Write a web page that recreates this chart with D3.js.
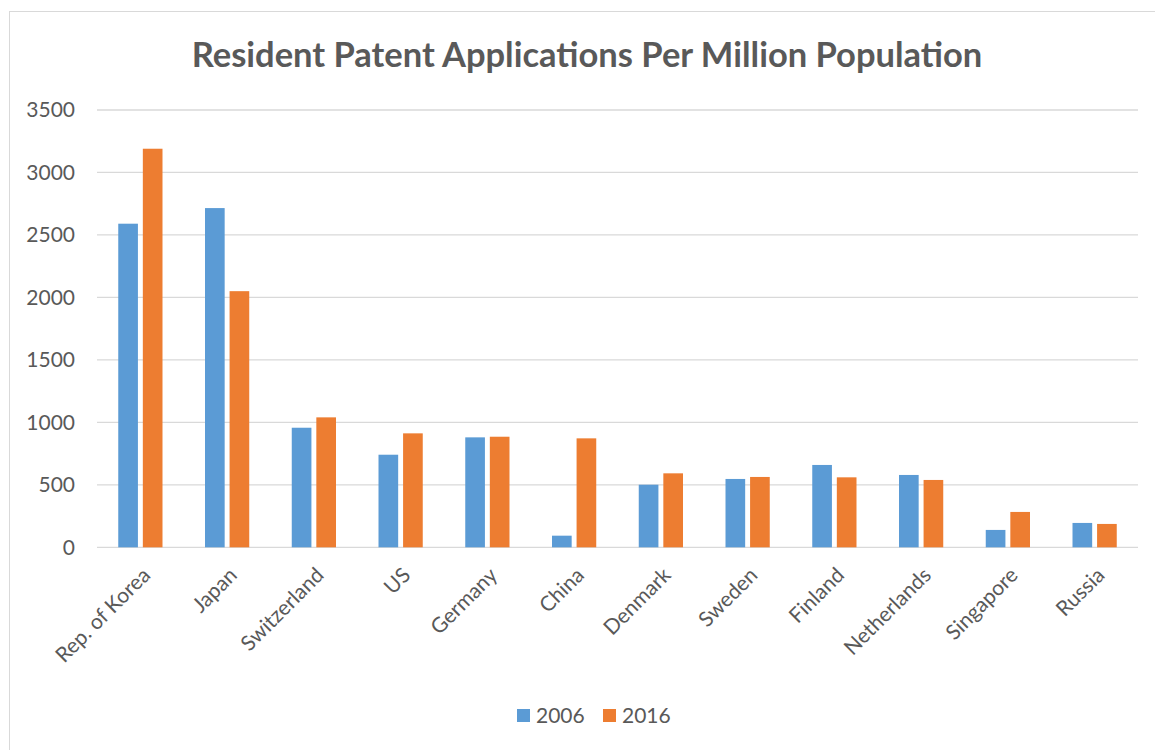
<!DOCTYPE html>
<html>
<head>
<meta charset="utf-8">
<script src="https://cdn.jsdelivr.net/npm/d3@7"></script>
<style>
  html, body { margin: 0; padding: 0; background: #fff; }
  svg { display: block; font-family: Lato, "Open Sans", sans-serif; }
</style>
</head>
<body>
<svg id="chart" width="1155" height="750"></svg>
<script>
const countries = ["Rep. of Korea", "Japan", "Switzerland", "US", "Germany", "China", "Denmark", "Sweden", "Finland", "Netherlands", "Singapore", "Russia"];
const seriesNames = ["2006", "2016"];
const values2006 = [2590, 2715, 957, 741, 880, 93, 501, 547, 659, 579, 139, 195];
const values2016 = [3190, 2050, 1040, 912, 885, 872, 592, 563, 560, 539, 283, 187];
const yTicks = [0, 500, 1000, 1500, 2000, 2500, 3000, 3500];
const colors = ["#5b9bd5", "#ed7d31"];
const title = "Resident Patent Applications Per Million Population";

(function () {
const svg = d3.select("#chart");
const textColor = "#595959";

// chart border
svg.append("rect").attr("x", 9.5).attr("y", 11.5).attr("width", 1160).attr("height", 760)
  .attr("fill", "#fff").attr("stroke", "#d9d9d9").attr("stroke-width", 1);

const pLeft = 97, pRight = 1138, pTop = 110, pBottom = 547.3;

const x = d3.scaleBand().domain(countries).range([pLeft, pRight]).paddingInner(0.49).paddingOuter(0.245);
const xs = d3.scaleBand().domain(seriesNames).range([0, x.bandwidth()]).paddingInner(0.2);
const y = d3.scaleLinear().domain([0, 3500]).range([pBottom, pTop]);

// gridlines
svg.append("g").selectAll("line").data(yTicks).join("line")
  .attr("x1", pLeft).attr("x2", pRight)
  .attr("y1", d => y(d)).attr("y2", d => y(d))
  .attr("stroke", "#d9d9d9").attr("stroke-width", 1.3);

// y labels
const yAxis = d3.axisLeft(y).tickValues(yTicks).tickSize(0).tickPadding(0).tickFormat(d3.format("d"));
const yg = svg.append("g").attr("transform", `translate(${75},0)`).call(yAxis);
yg.select(".domain").remove();
yg.selectAll("text").attr("font-size", 21).attr("fill", textColor).attr("font-family", "Lato, sans-serif");

// bars
const data = countries.map((c, i) => ({ c, vals: [values2006[i], values2016[i]] }));
const groups = svg.append("g").selectAll("g").data(data).join("g")
  .attr("transform", d => `translate(${x(d.c)},0)`);
groups.selectAll("rect").data(d => d.vals.map((v, k) => ({ v, k }))).join("rect")
  .attr("x", d => xs(seriesNames[d.k]))
  .attr("width", xs.bandwidth())
  .attr("y", d => y(d.v))
  .attr("height", d => y(0) - y(d.v))
  .attr("fill", d => colors[d.k]);

// x labels
const xAxis = d3.axisBottom(x).tickSize(0).tickPadding(0);
const xg = svg.append("g").attr("transform", `translate(0,${pBottom})`).call(xAxis);
xg.select(".domain").remove();
xg.selectAll("text")
  .attr("font-size", 21).attr("fill", textColor).attr("font-family", "Lato, sans-serif")
  .attr("text-anchor", "end")
  .attr("dy", "0.35em")
  .attr("transform", "translate(6,24) rotate(-45)");

// title
svg.append("text").attr("x", 587).attr("y", 67)
  .attr("text-anchor", "middle").attr("font-size", 34.5).attr("font-weight", "bold")
  .attr("fill", textColor).text(title);

// legend
const legend = svg.append("g").attr("transform", "translate(517,709)");
seriesNames.forEach((s, k) => {
  const g = legend.append("g").attr("transform", `translate(${k * 86},0)`);
  g.append("rect").attr("width", 13).attr("height", 13).attr("fill", colors[k]);
  g.append("text").attr("x", 19).attr("y", 14).attr("font-size", 21).attr("fill", textColor).text(s);
});
})();
</script>
</body>
</html>
